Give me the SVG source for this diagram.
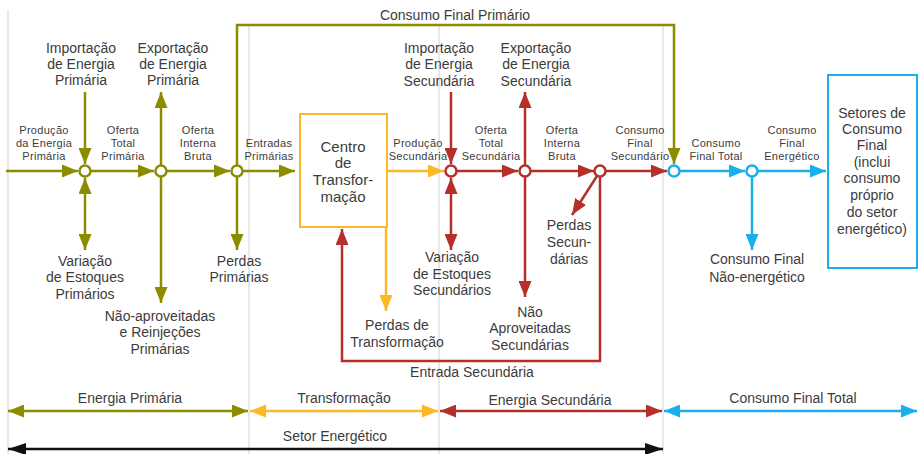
<svg xmlns="http://www.w3.org/2000/svg" width="919" height="454" viewBox="0 0 919 454">
<style>
text{font-family:"Liberation Sans",Arial,sans-serif;fill:#3c3c3c;text-anchor:middle}
.l{font-size:14px}
.s{font-size:11px;letter-spacing:0.3px}
.b{font-size:15px}
.g{stroke:#8c8c00;stroke-width:2.5;fill:none}
.r{stroke:#b5302a;stroke-width:2.5;fill:none}
.o{stroke:#fdb827;stroke-width:2.5;fill:none}
.u{stroke:#1aaeea;stroke-width:2.5;fill:none}
.k{stroke:#111;stroke-width:2.5;fill:none}
.grid{stroke:#d0d0d0;stroke-width:1}
.ng{fill:#fff;stroke:#8c8c00;stroke-width:2.5}
.nr{fill:#fff;stroke:#b5302a;stroke-width:2.5}
.nu{fill:#fff;stroke:#1aaeea;stroke-width:2.5}
</style>
<defs>
<marker id="ag" markerUnits="userSpaceOnUse" markerWidth="16" markerHeight="13" refX="16" refY="6.5" orient="auto-start-reverse"><path d="M0,0 L16,6.5 L0,13 z" fill="#8c8c00"/></marker>
<marker id="ar" markerUnits="userSpaceOnUse" markerWidth="16" markerHeight="13" refX="16" refY="6.5" orient="auto-start-reverse"><path d="M0,0 L16,6.5 L0,13 z" fill="#b5302a"/></marker>
<marker id="ao" markerUnits="userSpaceOnUse" markerWidth="16" markerHeight="13" refX="16" refY="6.5" orient="auto-start-reverse"><path d="M0,0 L16,6.5 L0,13 z" fill="#fdb827"/></marker>
<marker id="au" markerUnits="userSpaceOnUse" markerWidth="16" markerHeight="13" refX="16" refY="6.5" orient="auto-start-reverse"><path d="M0,0 L16,6.5 L0,13 z" fill="#1aaeea"/></marker>
<marker id="ak" markerUnits="userSpaceOnUse" markerWidth="18" markerHeight="12" refX="18" refY="6" orient="auto-start-reverse"><path d="M0,0 L18,6 L0,12 z" fill="#111"/></marker>
</defs>

<g id="grid">
<line class="grid" x1="8" y1="10" x2="8" y2="454"/>
<line class="grid" x1="249" y1="25" x2="249" y2="454"/>
<line class="grid" x1="439" y1="25" x2="439" y2="454"/>
<line class="grid" x1="663" y1="25" x2="663" y2="454"/>
</g>

<g id="connectors">
<!-- green -->
<line class="g" x1="6" y1="171" x2="78" y2="171" marker-end="url(#ag)"/>
<line class="g" x1="85" y1="92" x2="85" y2="164" marker-end="url(#ag)"/>
<line class="g" x1="91" y1="171" x2="154" y2="171" marker-end="url(#ag)"/>
<line class="g" x1="161" y1="165" x2="161" y2="92" marker-end="url(#ag)"/>
<line class="g" x1="167" y1="171" x2="230" y2="171" marker-end="url(#ag)"/>
<line class="g" x1="243" y1="171" x2="295" y2="171" marker-end="url(#ag)"/>
<line class="g" x1="85" y1="178" x2="85" y2="250" marker-start="url(#ag)" marker-end="url(#ag)"/>
<line class="g" x1="161" y1="177" x2="161" y2="303" marker-end="url(#ag)"/>
<line class="g" x1="237" y1="177" x2="237" y2="250" marker-end="url(#ag)"/>
<polyline class="g" points="237,165 237,25 674,25 674,164" marker-end="url(#ag)"/>
<!-- orange -->
<line class="o" x1="387" y1="171" x2="444" y2="171" marker-end="url(#ao)"/>
<line class="o" x1="386" y1="227" x2="386" y2="311" marker-end="url(#ao)"/>
<!-- red -->
<line class="r" x1="451" y1="92" x2="451" y2="164" marker-end="url(#ar)"/>
<line class="r" x1="457" y1="171" x2="518" y2="171" marker-end="url(#ar)"/>
<line class="r" x1="525" y1="165" x2="525" y2="92" marker-end="url(#ar)"/>
<line class="r" x1="531" y1="171" x2="594" y2="171" marker-end="url(#ar)"/>
<line class="r" x1="606" y1="171" x2="667" y2="171" marker-end="url(#ar)"/>
<line class="r" x1="451" y1="178" x2="451" y2="250" marker-start="url(#ar)" marker-end="url(#ar)"/>
<line class="r" x1="525" y1="177" x2="525" y2="297" marker-end="url(#ar)"/>
<line class="r" x1="597" y1="176" x2="572" y2="215" marker-end="url(#ar)"/>
<polyline class="r" points="600,177 600,361 342,361 342,229" marker-end="url(#ar)"/>
<!-- blue -->
<line class="u" x1="680" y1="171" x2="745" y2="171" marker-end="url(#au)"/>
<line class="u" x1="758" y1="171" x2="826" y2="171" marker-end="url(#au)"/>
<line class="u" x1="752" y1="177" x2="752" y2="250" marker-end="url(#au)"/>
<!-- bottom ranges -->
<line class="g" x1="8" y1="411" x2="248" y2="411" marker-start="url(#ag)" marker-end="url(#ag)"/>
<line class="o" x1="250" y1="411" x2="438" y2="411" marker-start="url(#ao)" marker-end="url(#ao)"/>
<line class="r" x1="440" y1="411" x2="662" y2="411" marker-start="url(#ar)" marker-end="url(#ar)"/>
<line class="u" x1="664" y1="411" x2="917" y2="411" marker-start="url(#au)" marker-end="url(#au)"/>
<line class="k" x1="8" y1="449" x2="663" y2="449" marker-start="url(#ak)" marker-end="url(#ak)"/>
</g>

<g id="n-g1"><circle class="ng" cx="85" cy="171" r="5.5"/></g>
<g id="n-g2"><circle class="ng" cx="161" cy="171" r="5.5"/></g>
<g id="n-g3"><circle class="ng" cx="237" cy="171" r="5.5"/></g>
<g id="n-r1"><circle class="nr" cx="451" cy="171" r="5.5"/></g>
<g id="n-r2"><circle class="nr" cx="525" cy="171" r="5.5"/></g>
<g id="n-r3"><circle class="nr" cx="600" cy="171" r="5.5"/></g>
<g id="n-u1"><circle class="nu" cx="674" cy="171" r="5.5"/></g>
<g id="n-u2"><circle class="nu" cx="752" cy="171" r="5.5"/></g>

<g id="centro">
<rect x="300" y="114" width="87" height="113" fill="#fff" stroke="#fdb827" stroke-width="2"/>
<text class="b" x="343" y="152">Centro</text>
<text class="b" x="343" y="168">de</text>
<text class="b" x="343" y="185">Transfor-</text>
<text class="b" x="343" y="202">mação</text>
</g>

<g id="setores">
<rect x="828" y="75" width="89" height="193" fill="#fff" stroke="#1aaeea" stroke-width="2"/>
<text class="l" x="872" y="118">Setores de</text>
<text class="l" x="872" y="134">Consumo</text>
<text class="l" x="872" y="150">Final</text>
<text class="l" x="872" y="167">(inclui</text>
<text class="l" x="872" y="183">consumo</text>
<text class="l" x="872" y="200">próprio</text>
<text class="l" x="872" y="217">do setor</text>
<text class="l" x="872" y="234">energético)</text>
</g>

<g id="labels-large">
<text class="l" x="455" y="20">Consumo Final Primário</text>
<text class="l" x="81" y="53">Importação</text>
<text class="l" x="81" y="69">de Energia</text>
<text class="l" x="81" y="85">Primária</text>
<text class="l" x="173" y="53">Exportação</text>
<text class="l" x="173" y="69">de Energia</text>
<text class="l" x="173" y="85">Primária</text>
<text class="l" x="439" y="53">Importação</text>
<text class="l" x="439" y="69">de Energia</text>
<text class="l" x="439" y="86">Secundária</text>
<text class="l" x="536" y="53">Exportação</text>
<text class="l" x="536" y="69">de Energia</text>
<text class="l" x="536" y="86">Secundária</text>
<text class="l" x="85" y="266">Variação</text>
<text class="l" x="85" y="282">de Estoques</text>
<text class="l" x="85" y="299">Primários</text>
<text class="l" x="160" y="321">Não-aproveitadas</text>
<text class="l" x="160" y="337">e Reinjeções</text>
<text class="l" x="160" y="354">Primárias</text>
<text class="l" x="239" y="266">Perdas</text>
<text class="l" x="239" y="282">Primárias</text>
<text class="l" x="452" y="262">Variação</text>
<text class="l" x="452" y="279">de Estoques</text>
<text class="l" x="452" y="295">Secundários</text>
<text class="l" x="530" y="317">Não</text>
<text class="l" x="530" y="333">Aproveitadas</text>
<text class="l" x="530" y="350">Secundárias</text>
<text class="l" x="569" y="230">Perdas</text>
<text class="l" x="569" y="247">Secun-</text>
<text class="l" x="569" y="264">dárias</text>
<text class="l" x="397" y="330">Perdas de</text>
<text class="l" x="397" y="347">Transformação</text>
<text class="l" x="472" y="377">Entrada Secundária</text>
<text class="l" x="757" y="264">Consumo Final</text>
<text class="l" x="757" y="282">Não-energético</text>
<text class="l" x="130" y="403">Energia Primária</text>
<text class="l" x="344" y="403">Transformação</text>
<text class="l" x="550" y="405">Energia Secundária</text>
<text class="l" x="793" y="403">Consumo Final Total</text>
<text class="l" x="335" y="441">Setor Energético</text>
</g>

<g id="labels-small">
<text class="s" x="44" y="134">Produção</text>
<text class="s" x="44" y="147">da Energia</text>
<text class="s" x="44" y="160">Primária</text>
<text class="s" x="123" y="134">Oferta</text>
<text class="s" x="123" y="147">Total</text>
<text class="s" x="123" y="160">Primária</text>
<text class="s" x="198" y="134">Oferta</text>
<text class="s" x="198" y="147">Interna</text>
<text class="s" x="198" y="160">Bruta</text>
<text class="s" x="269" y="147">Entradas</text>
<text class="s" x="269" y="160">Primárias</text>
<text class="s" x="418" y="147">Produção</text>
<text class="s" x="418" y="160">Secundária</text>
<text class="s" x="491" y="134">Oferta</text>
<text class="s" x="491" y="147">Total</text>
<text class="s" x="491" y="160">Secundária</text>
<text class="s" x="562" y="134">Oferta</text>
<text class="s" x="562" y="147">Interna</text>
<text class="s" x="562" y="160">Bruta</text>
<text class="s" x="640" y="134">Consumo</text>
<text class="s" x="640" y="147">Final</text>
<text class="s" x="640" y="160">Secundário</text>
<text class="s" x="716" y="147">Consumo</text>
<text class="s" x="716" y="160">Final Total</text>
<text class="s" x="792" y="134">Consumo</text>
<text class="s" x="792" y="147">Final</text>
<text class="s" x="792" y="160">Energético</text>
</g>
</svg>
